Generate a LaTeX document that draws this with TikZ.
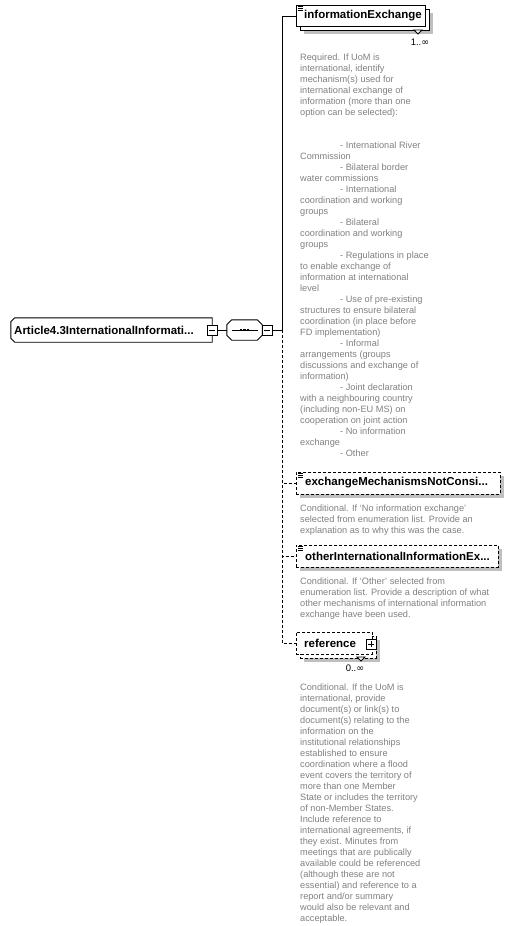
\documentclass[tikz,border=0pt]{standalone}
\usepackage{fontspec}
\setmainfont{Liberation Sans}
\newfontfamily\symfont{DejaVu Sans}
\usetikzlibrary{shadows}
\begin{document}
\begin{tikzpicture}[x=1pt,y=-1pt,
  sh/.style={drop shadow={shadow xshift=4pt,shadow yshift=-4pt,fill=black!25,opacity=1,draw=none}},
  ebox/.style={draw=black, fill=white, line width=0.9pt, rectangle, inner sep=0pt},
  optbox/.style={ebox, dash pattern=on 3pt off 2pt},
  frame/.style={draw=none, rectangle, inner sep=0pt},
  shfill/.style={fill=black!25, xshift=4pt, yshift=-4pt},
  outl/.style={draw=black, fill=white, line width=0.9pt},
  lbl/.style={font=\fontsize{11.5}{13}\selectfont\bfseries, inner sep=0pt, anchor=west},
  doc/.style={font=\fontsize{9.2}{11}\selectfont, text=black!50, align=left, inner sep=0pt, anchor=base west},
  occ/.style={font=\fontsize{9.5}{11}\selectfont, inner sep=0pt},
  pm/.style={draw=black, fill=white, line width=0.8pt, minimum size=10pt, inner sep=0pt, rectangle},
  conn/.style={line width=0.9pt},
  oconn/.style={conn, dash pattern=on 3pt off 2pt},
  tri/.style={draw=black, fill=white, line width=0.8pt},
  ico/.style={line width=0.8pt}
]
\useasboundingbox (0,0) rectangle (512,926);

% ---------- root ----------
\node[frame, minimum width=201pt, minimum height=24pt] (root) at (111.5,330) {};
\def\rootpath{([xshift=4pt]root.north west) -- (root.north east) -- (root.south east)
  -- ([xshift=4pt]root.south west) -- ([yshift=4pt]root.south west)
  -- ([yshift=-4pt]root.north west) -- cycle}
\fill[shfill] \rootpath;
\path[outl] \rootpath;
\node[lbl] (rootL) at (14,330) {Article4.3InternationalInformati...};
\node[pm] (rootPM) at (212,330) {};
\draw[line width=0.8pt] ([xshift=-3pt]rootPM.center) -- ([xshift=3pt]rootPM.center);

% ---------- sequence ----------
\node[frame, minimum width=35pt, minimum height=20pt] (seq) at (244.5,330) {};
\def\seqpath{([xshift=5pt]seq.north west) -- ([xshift=-5pt]seq.north east)
  -- ([yshift=-5pt]seq.north east) -- ([yshift=5pt]seq.south east)
  -- ([xshift=-5pt]seq.south east) -- ([xshift=5pt]seq.south west)
  -- ([yshift=5pt]seq.south west) -- ([yshift=-5pt]seq.north west) -- cycle}
\fill[shfill] \seqpath;
\path[outl] \seqpath;
\draw[conn] (rootPM.east) -- (seq.west);
\draw[line width=0.8pt] ([xshift=-13pt]seq.center) -- ([xshift=13pt]seq.center);
\foreach \dx in {-4.8,-1.2,2.4}
  \fill ([shift={(\dx,-1.2)}]seq.center) rectangle +(2.4,2.4);
\node[pm] (seqPM) at (267,330) {};
\draw[line width=0.8pt] ([xshift=-3pt]seqPM.center) -- ([xshift=3pt]seqPM.center);
\coordinate (bus) at (282,330);
\draw[conn] (seqPM.east) -- (bus);

% ---------- informationExchange ----------
\node[ebox, sh, minimum width=129pt, minimum height=21pt, anchor=north west] (ieBack) at (300,9) {};
\node[ebox, minimum width=129pt, minimum height=21pt, anchor=north west] (ie) at (296,5) {};
\draw[ico] (298,6.5) -- (303,6.5) (298,8.5) -- (303,8.5) (298,10.5) -- (303,10.5);
\node[lbl] (ieL) at (304,16) {informationExchange};
\draw[tri] (414,30) -- (422,30) -- (418,34) -- cycle;
\node[occ] (ieOcc) at (420,42) {1..{\symfont ∞}};
\draw[conn] (bus) |- (ie.west);

\node[doc] (ieDoc) at (300,456) {Required. If UoM is\\
international, identify\\
mechanism(s) used for\\
international exchange of\\
information (more than one\\
option can be selected):\\
\mbox{}\\
\mbox{}\\
\hspace*{40pt}- International River\\
Commission\\
\hspace*{40pt}- Bilateral border\\
water commissions\\
\hspace*{40pt}- International\\
coordination and working\\
groups\\
\hspace*{40pt}- Bilateral\\
coordination and working\\
groups\\
\hspace*{40pt}- Regulations in place\\
to enable exchange of\\
information at international\\
level\\
\hspace*{40pt}- Use of pre-existing\\
structures to ensure bilateral\\
coordination (in place before\\
FD implementation)\\
\hspace*{40pt}- Informal\\
arrangements (groups\\
discussions and exchange of\\
information)\\
\hspace*{40pt}- Joint declaration\\
with a neighbouring country\\
(including non-EU MS) on\\
cooperation on joint action\\
\hspace*{40pt}- No information\\
exchange\\
\hspace*{40pt}- Other};

% ---------- exchangeMechanismsNotConsi... ----------
\node[optbox, sh, minimum width=204pt, minimum height=22pt, anchor=north west] (ex) at (296,472) {};
\draw[ico] (298,473.5) -- (303,473.5) (298,475.5) -- (303,475.5) (298,477.5) -- (303,477.5);
\node[lbl] (exL) at (305,483) {exchangeMechanismsNotConsi...};
\draw[oconn] (bus) |- (ex.west);
\node[doc] (exDoc) at (300,533) {Conditional. If ‘No information exchange’\\
selected from enumeration list. Provide an\\
explanation as to why this was the case.};

% ---------- otherInternationalInformationEx... ----------
\node[optbox, sh, minimum width=202pt, minimum height=22pt, anchor=north west] (ot) at (296,545) {};
\draw[ico] (298,546.5) -- (303,546.5) (298,548.5) -- (303,548.5) (298,550.5) -- (303,550.5);
\node[lbl] (otL) at (305,556) {otherInternationalInformationEx...};
\draw[oconn] (bus) |- (ot.west);
\node[doc] (otDoc) at (300,617) {Conditional. If ‘Other’ selected from\\
enumeration list. Provide a description of what\\
other mechanisms of international information\\
exchange have been used.};

% ---------- reference ----------
\node[optbox, sh, minimum width=76pt, minimum height=22pt, anchor=north west] (refBack) at (300,636) {};
\node[optbox, minimum width=76pt, minimum height=22pt, anchor=north west] (ref) at (296,632) {};
\node[lbl] (refL) at (304,643) {reference};
\node[pm] (refPM) at (371,644) {};
\draw[line width=0.8pt] ([xshift=-3pt]refPM.center) -- ([xshift=3pt]refPM.center)
                        ([yshift=-3pt]refPM.center) -- ([yshift=3pt]refPM.center);
\draw[tri] (357,657) -- (365,657) -- (361,661) -- cycle;
\node[occ] (refOcc) at (355,668) {0..{\symfont ∞}};
\draw[oconn] (bus) |- (ref.west);

\node[doc] (refDoc) at (300,921) {Conditional. If the UoM is\\
international, provide\\
document(s) or link(s) to\\
document(s) relating to the\\
information on the\\
institutional relationships\\
established to ensure\\
coordination where a flood\\
event covers the territory of\\
more than one Member\\
State or includes the territory\\
of non-Member States.\\
Include reference to\\
international agreements, if\\
they exist. Minutes from\\
meetings that are publically\\
available could be referenced\\
(although these are not\\
essential) and reference to a\\
report and/or summary\\
would also be relevant and\\
acceptable.};
\end{tikzpicture}
\end{document}
